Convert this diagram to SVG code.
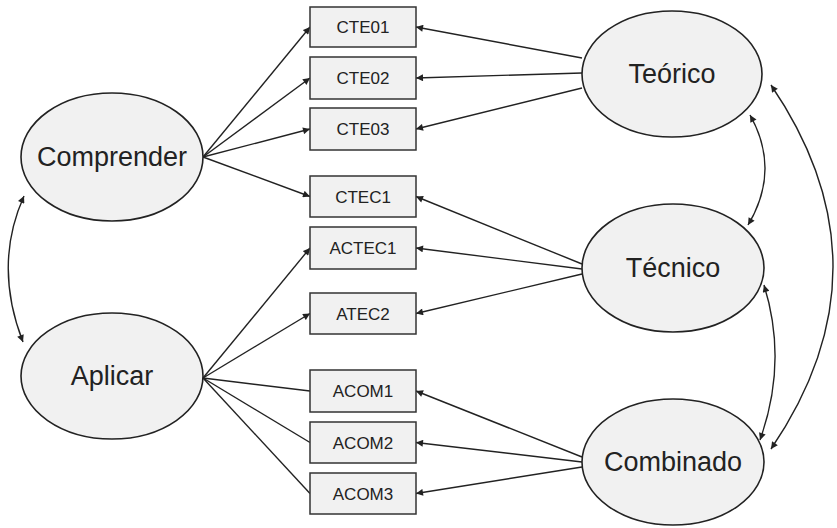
<svg xmlns="http://www.w3.org/2000/svg" width="837" height="528" viewBox="0 0 837 528">
<defs>
<marker id="ah" viewBox="0 0 10 10" refX="10" refY="5" markerWidth="9" markerHeight="7" markerUnits="userSpaceOnUse" orient="auto-start-reverse">
<path d="M0,0 L10,5 L0,10 z" fill="#222"/>
</marker>
<style>
.el{fill:#f1f1f1;stroke:#222;stroke-width:1.6}
.bx{fill:#f1f1f1;stroke:#333;stroke-width:1.5}
.lt{font-family:"Liberation Sans",Arial,sans-serif;font-size:27px;fill:#222;text-anchor:middle}
.bt{font-family:"Liberation Sans",Arial,sans-serif;font-size:17px;fill:#222;text-anchor:middle}
.c{fill:none;stroke:#222;stroke-width:1.4}
.a{marker-end:url(#ah)}
.d{marker-start:url(#ah);marker-end:url(#ah)}
</style>
</defs>
<g id="connectors">
<line class="c a" x1="203" y1="157" x2="310" y2="27"/>
<line class="c a" x1="203" y1="157" x2="310" y2="78"/>
<line class="c a" x1="203" y1="157" x2="310" y2="129"/>
<line class="c a" x1="203" y1="157" x2="310" y2="196.5"/>
<line class="c a" x1="203" y1="378" x2="310" y2="248"/>
<line class="c a" x1="203" y1="378" x2="310" y2="313.5"/>
<line class="c" x1="203" y1="378" x2="310" y2="391"/>
<line class="c" x1="203" y1="378" x2="310" y2="442.5"/>
<line class="c" x1="203" y1="378" x2="310" y2="493.5"/>
<line class="c a" x1="582" y1="58" x2="416" y2="27"/>
<line class="c a" x1="582" y1="73" x2="416" y2="78"/>
<line class="c a" x1="582" y1="88" x2="416" y2="129"/>
<line class="c a" x1="582" y1="264" x2="416" y2="196.5"/>
<line class="c a" x1="582" y1="269" x2="416" y2="248"/>
<line class="c a" x1="582" y1="274" x2="416" y2="313.5"/>
<line class="c a" x1="582" y1="457" x2="416" y2="391"/>
<line class="c a" x1="582" y1="462" x2="416" y2="442.5"/>
<line class="c a" x1="582" y1="467" x2="416" y2="493.5"/>
<path class="c d" d="M24,196 Q-7,265 23,342"/>
<path class="c d" d="M750,115 Q781,170 748,225"/>
<path class="c d" d="M764,285 Q788,362 760,440"/>
<path class="c d" d="M771,85 Q895,267 771,449"/>
</g>
<g id="comprender"><ellipse class="el" cx="112" cy="157" rx="91" ry="64"/><text class="lt" x="112" y="166">Comprender</text></g>
<g id="aplicar"><ellipse class="el" cx="112" cy="376" rx="91" ry="63"/><text class="lt" x="112" y="385">Aplicar</text></g>
<g id="teorico"><ellipse class="el" cx="672" cy="74" rx="90" ry="63"/><text class="lt" x="672" y="83">Teórico</text></g>
<g id="tecnico"><ellipse class="el" cx="673" cy="268" rx="91" ry="64"/><text class="lt" x="673" y="277">Técnico</text></g>
<g id="combinado"><ellipse class="el" cx="673" cy="462" rx="91" ry="63"/><text class="lt" x="673" y="471">Combinado</text></g>
<g id="cte01"><rect class="bx" x="310" y="7" width="106" height="40"/><text class="bt" x="363" y="33">CTE01</text></g>
<g id="cte02"><rect class="bx" x="310" y="57" width="106" height="42"/><text class="bt" x="363" y="84">CTE02</text></g>
<g id="cte03"><rect class="bx" x="310" y="108" width="106" height="42"/><text class="bt" x="363" y="135">CTE03</text></g>
<g id="ctec1"><rect class="bx" x="310" y="176" width="106" height="41"/><text class="bt" x="363" y="202.5">CTEC1</text></g>
<g id="actec1"><rect class="bx" x="310" y="227" width="106" height="42"/><text class="bt" x="363" y="254">ACTEC1</text></g>
<g id="atec2"><rect class="bx" x="310" y="293" width="106" height="41"/><text class="bt" x="363" y="319.5">ATEC2</text></g>
<g id="acom1"><rect class="bx" x="310" y="370" width="106" height="42"/><text class="bt" x="363" y="397">ACOM1</text></g>
<g id="acom2"><rect class="bx" x="310" y="422" width="106" height="41"/><text class="bt" x="363" y="448.5">ACOM2</text></g>
<g id="acom3"><rect class="bx" x="310" y="473" width="106" height="41"/><text class="bt" x="363" y="499.5">ACOM3</text></g>
</svg>
